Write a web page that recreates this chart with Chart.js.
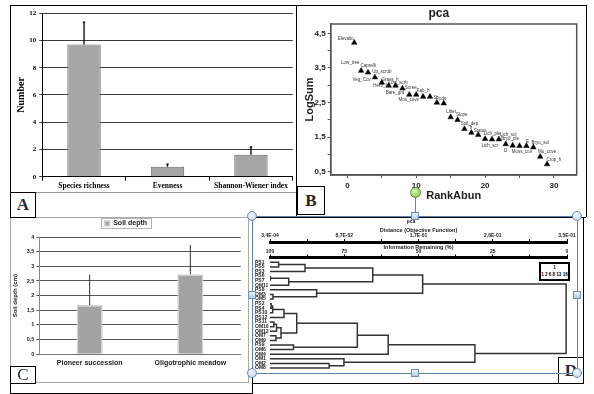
<!DOCTYPE html>
<html>
<head>
<meta charset="utf-8">
<script src="https://cdn.jsdelivr.net/npm/chart.js@4.4.1/dist/chart.umd.min.js"></script>
<style>
  body { margin: 0; background: #fff; }
  #figure { position: relative; width: 594px; height: 394px; overflow: hidden; background: #fff; }
  #figure > * { position: absolute; box-sizing: border-box; }
  .ln { background: #000; }
  .bl { background: #5a82ae; }
  .tag { border: 1px solid #000; background: #fff; display: flex; align-items: center; justify-content: center;
         font: bold 17px "Liberation Serif", "Times New Roman", serif; color: #1e2a48; }
  .hc { width: 10px; height: 10px; border-radius: 50%; border: 1px solid #6d8fb6;
        background: radial-gradient(circle at 40% 35%, #f6f9fc, #b9cde4); }
  .hs { width: 8px; height: 8px; border: 1px solid #6d8fb6; background: linear-gradient(#eef4fa, #b3cbe4); }
  #groupKey { border: 2px solid #000; background: #fff; text-align: center; white-space: nowrap;
              font: bold 4.5px "Liberation Sans", Arial, sans-serif; line-height: 6.5px; padding-top: 1px; }
</style>
</head>
<body>
<div id="figure">
  <!-- panel frames -->
  <div class="ln" style="left:10px;top:5px;width:577px;height:1px"></div>
  <div class="ln" style="left:10px;top:5px;width:1px;height:389px"></div>
  <div class="ln" style="left:296px;top:5px;width:1px;height:212px"></div>
  <div class="ln" style="left:586px;top:5px;width:1px;height:212px"></div>
  <div class="ln" style="left:10px;top:217px;width:576px;height:1px"></div>
  <div class="ln" style="left:252px;top:217px;width:1px;height:177px"></div>
  <div class="ln" style="left:10px;top:393px;width:243px;height:1px"></div>
  <div class="ln" style="left:583px;top:217px;width:1px;height:167px"></div>
  <div class="ln" style="left:252px;top:383px;width:332px;height:1px"></div>
  <div class="ln" style="left:36px;top:192px;width:260px;height:1px;background:#9a9a9a"></div>
  <div style="left:10px;top:217px;width:239px;height:166px;border:1px solid #a8a8a8"></div>

  <canvas id="chartA" width="284" height="186" style="left:11px;top:6px"></canvas>
  <canvas id="chartB" width="284" height="208" style="left:301px;top:6px"></canvas>
  <canvas id="chartC" width="237" height="163" style="left:11px;top:218px"></canvas>
  <canvas id="chartD" width="329" height="164" style="left:253px;top:218px"></canvas>
  <div id="groupKey" style="left:539px;top:262px;width:31px;height:19px"></div>

  <!-- panel letters -->
  <div class="tag" style="left:10px;top:192px;width:26px;height:26px">A</div>
  <div class="tag" style="left:297px;top:186px;width:28px;height:29px;color:#2b2520">B</div>
  <div class="tag" style="left:10px;top:366px;width:26px;height:18px;font-weight:normal">C</div>
  <div class="tag" style="left:558px;top:357px;width:26px;height:27px">D</div>

  <!-- selection frame around D -->
  <div class="bl" style="left:252px;top:216px;width:326px;height:1px"></div>
  <div class="bl" style="left:252px;top:373px;width:326px;height:1px"></div>
  <div class="bl" style="left:252px;top:216px;width:1px;height:158px"></div>
  <div class="bl" style="left:577px;top:216px;width:1px;height:158px"></div>
  <div class="bl" style="left:415px;top:196px;width:1px;height:18px"></div>
  <div class="hc" style="left:410px;top:187px;width:11px;height:11px;border-color:#5f8f3a;background:radial-gradient(circle at 40% 35%,#d8f5b0,#7cc23c)"></div>
  <div class="hc" style="left:247px;top:211px"></div>
  <div class="hc" style="left:572px;top:211px"></div>
  <div class="hc" style="left:247px;top:368px"></div>
  <div class="hc" style="left:572px;top:368px"></div>
  <div class="hs" style="left:411px;top:212px"></div>
  <div class="hs" style="left:411px;top:369px"></div>
  <div class="hs" style="left:248px;top:291px"></div>
  <div class="hs" style="left:573px;top:291px"></div>
</div>

<script>
// ---- data ----
// A: diversity indices
const diversityLabels = ["Species richness", "Evenness", "Shannon-Wiener index"];
const diversityMeans = [9.7, 0.73, 1.62];
const diversityErrors = [1.65, 0.19, 0.56];

// B: rank / abundance of variables
const rankAbun = [1, 2, 3, 4, 5, 6, 7, 8, 9, 10, 11, 12, 13, 14, 15, 16, 17, 18, 19, 20, 21, 22, 23, 24, 25, 26, 27, 28, 29];
const logSum = [4.23, 3.42, 3.37, 3.23, 3.08, 2.99, 2.99, 2.91, 2.73, 2.73, 2.67, 2.67, 2.5, 2.48, 2.08,
  2.0, 1.74, 1.63, 1.57, 1.45, 1.44, 1.44, 1.3, 1.26, 1.25, 1.25, 1.21, 0.94, 0.72];
const variableNames = ["Elevatio", "Low_tree", "Caprelli", "Veg_Cov", "Up_scrub", "Herb_h", "Grass_h", "Low_scrb",
  "Bare_grd", "Scree", "Mos_cove", "Fab_h", "S", "Pods", "Litter", "Slope", "Soil_dep", "h", "Status",
  "Lich_ple", "Lich_scr", "Lich_sol", "Bryo_ple", "D", "Moss_cov", "E", "Bryo_sol", "Mo_cove", "Crop_h"];
const logSumTicks = [0.5, 1, 1.5, 2, 2.5, 3, 3.5, 4, 4.5];
const rankTicks = [0, 5, 10, 15, 20, 25, 30];

// C: soil depth
const habitatLabels = ["Pioneer succession", "Oligotrophic meadow"];
const soilDepthMeans = [1.68, 2.73];
const soilDepthErrors = [1.04, 1.0];

// D: cluster dendrogram
const plotNames = ["PS1", "PS5", "PS3", "PS6", "PS7", "OM11", "PS8", "OM3", "OM5", "PS2", "PS4", "PS10",
  "PS12", "PS11", "OM10", "OM12", "OM7", "OM9", "PS9", "OM6", "OM4", "OM1", "OM2", "OM8"];
// each merge joins two plots or earlier clusters (c0, c1, ...)
const merges = [
  ["PS1", "PS5"], ["c0", "PS3"], ["PS6", "PS7"], ["c2", "OM11"], ["c1", "c3"],
  ["OM3", "OM5"], ["PS8", "c5"], ["c4", "c6"], ["PS2", "PS4"], ["c8", "PS10"],
  ["c9", "PS12"], ["PS11", "OM10"], ["c11", "OM12"], ["OM7", "OM9"], ["c12", "c13"],
  ["c10", "c14"], ["PS9", "OM6"], ["c15", "c16"], ["c17", "OM4"], ["OM2", "OM8"],
  ["OM1", "c19"], ["c18", "c20"], ["c7", "c21"]
];
const mergeInfo = [97.1, 88.2, 99.8, 93.7, 65.4, 99.0, 84.3, 48.6, 99.6, 99.1, 95.3, 98.7, 97.8, 98.0, 96.3,
  91.0, 92.1, 70.6, 60.2, 80.1, 75.1, 31.0, 0.3];
const infoLabels = ["100", "75", "50", "25", "0"];
const distanceLabels = ["3,4E-04", "8,7E-02", "1,7E-01", "2,6E-01", "3,5E-01"];
const distanceMin = 0.00034;
const distanceMax = 0.35;
const groupKeyLines = ["1", "1 2 6 8 13 16"];

// ---- helpers ----
const SERIF = "'Liberation Serif', 'Times New Roman', serif";
const SANS = "'Liberation Sans', Arial, sans-serif";

Chart.defaults.animation = false;
Chart.defaults.responsive = false;
Chart.defaults.devicePixelRatio = 1;
Chart.defaults.plugins.legend.display = false;
Chart.defaults.plugins.tooltip.enabled = false;
Chart.defaults.color = "#000";

function fixWidth(w) {
  return (scale) => { scale.width = w; };
}
function fixHeight(h) {
  return (scale) => { scale.height = h; };
}
function setTicks(values) {
  return (scale) => { scale.ticks = values.map((v) => ({ value: v })); };
}
function comma(v) {
  return String(v).replace(".", ",");
}

// Upward error bars on top of each bar
const errorBars = {
  id: "errorBars",
  afterDatasetsDraw(chart, args, opts) {
    const ctx = chart.ctx;
    const y = chart.scales.y;
    const values = chart.data.datasets[0].data;
    ctx.save();
    ctx.strokeStyle = opts.color;
    ctx.lineWidth = opts.width;
    chart.getDatasetMeta(0).data.forEach((bar, i) => {
      const top = y.getPixelForValue(values[i] + opts.errors[i]);
      ctx.beginPath();
      ctx.moveTo(bar.x, bar.y);
      ctx.lineTo(bar.x, top);
      if (opts.cap) {
        ctx.moveTo(bar.x - opts.cap, top);
        ctx.lineTo(bar.x + opts.cap, top);
      }
      ctx.stroke();
    });
    ctx.restore();
  }
};

// Box round the plot area
const plotFrame = {
  id: "plotFrame",
  beforeDatasetsDraw(chart, args, opts) {
    const a = chart.chartArea;
    const ctx = chart.ctx;
    ctx.save();
    ctx.strokeStyle = opts.color;
    ctx.lineWidth = opts.width;
    ctx.strokeRect(a.left, a.top, a.right - a.left, a.bottom - a.top);
    ctx.restore();
  }
};

// label offsets (px) of the variable names next to the triangles
const nameOffsets = [[-8.5, -4.4], [-11, -8], [0, -7], [-13.3, 2.7], [0, -11], [-8, 0.3], [-5.5, -5.7],
  [-4.3, -5.6], [-14.3, -2], [-5.3, -7], [-14.3, 3.3], [-6.8, -6], [-1.6, -5], [-2.7, -5], [0.6, -5],
  [4.3, -5], [5, -4.7], [-0.4, -5.4], [1.8, -4], [7, -5], [-2, 6.4], [9.3, -4.3], [4.3, -5], [-7, 5],
  [2.3, 6.3], [1, -3.7], [7, -4.6], [7, -4.4], [6.8, -4.3]];

const pointNames = {
  id: "pointNames",
  afterDatasetsDraw(chart) {
    const ctx = chart.ctx;
    ctx.save();
    ctx.font = "4.5px " + SANS;
    ctx.fillStyle = "#333";
    ctx.textAlign = "center";
    ctx.textBaseline = "middle";
    chart.getDatasetMeta(0).data.forEach((pt, i) => {
      const off = nameOffsets[i];
      ctx.fillText(variableNames[i], pt.x + off[0], pt.y + off[1]);
    });
    ctx.restore();
  }
};

// Light box round the legend
const legendFrame = {
  id: "legendFrame",
  afterDraw(chart) {
    const boxes = chart.legend.legendHitBoxes;
    if (!boxes || !boxes.length) return;
    const b = boxes[0];
    const ctx = chart.ctx;
    ctx.save();
    ctx.strokeStyle = "#b5b5b5";
    ctx.lineWidth = 1;
    ctx.strokeRect(Math.round(b.left - 4) + 0.5, Math.round(b.top - 2) + 0.5, Math.round(b.width + 8), Math.round(b.height + 3));
    ctx.restore();
  }
};

// ---- Panel A ----
function drawPanelA() {
  new Chart(document.getElementById("chartA"), {
    type: "bar",
    data: {
      labels: diversityLabels,
      datasets: [{
        data: diversityMeans,
        backgroundColor: "#a6a6a6",
        borderColor: "#6a6a6a",
        borderWidth: 1,
        barPercentage: 0.4,
        categoryPercentage: 1
      }]
    },
    options: {
      layout: { padding: { left: 0, right: 2.3, top: 5.7, bottom: 0 } },
      plugins: { errorBars: { errors: diversityErrors, color: "#000", width: 1.3, cap: 1.2 } },
      scales: {
        x: {
          afterFit: fixHeight(15.3),
          grid: { offset: true, drawOnChartArea: false, tickLength: 4, color: "#000" },
          border: { color: "#000" },
          ticks: { font: { family: SERIF, size: 7.5, weight: "bold" }, padding: 1, maxRotation: 0, autoSkip: false }
        },
        y: {
          min: 0,
          max: 12,
          afterFit: fixWidth(31.3),
          ticks: { stepSize: 2, font: { family: SERIF, size: 7, weight: "bold" }, padding: 3 },
          grid: { color: "#3c3c3c", tickLength: 3 },
          border: { color: "#000" },
          title: { display: true, text: "Number", font: { family: SERIF, size: 10, weight: "bold" }, padding: { top: 4.7 } }
        }
      }
    },
    plugins: [errorBars]
  });
}

// ---- Panel B ----
function drawPanelB() {
  const points = rankAbun.map((r, i) => ({ x: r, y: logSum[i] }));
  new Chart(document.getElementById("chartB"), {
    type: "scatter",
    data: {
      datasets: [{
        data: points,
        pointStyle: "triangle",
        pointRadius: 3.2,
        backgroundColor: "#000",
        borderColor: "#000",
        borderWidth: 0.5
      }]
    },
    options: {
      layout: { padding: { left: 0, right: 8.3, top: 0, bottom: 9 } },
      plugins: {
        title: { display: true, text: "pca", color: "#222", font: { family: SANS, size: 12 }, padding: { top: 0, bottom: 3.6 } },
        plotFrame: { color: "#555", width: 1.5 }
      },
      scales: {
        x: {
          type: "linear",
          min: -2.42,
          max: 33.3,
          afterBuildTicks: setTicks(rankTicks),
          afterFit: fixHeight(30),
          ticks: { callback: (v) => (v % 10 === 0 ? String(v) : ""), font: { family: SANS, size: 8, weight: "bold" }, color: "#222", padding: 3 },
          grid: { drawOnChartArea: false, tickLength: 3, color: "#555" },
          border: { color: "#555", width: 1.5 },
          title: { display: true, text: "RankAbun", color: "#222", font: { family: SANS, size: 11, weight: "bold" }, padding: { bottom: 2 } }
        },
        y: {
          min: 0.41,
          max: 4.77,
          afterBuildTicks: setTicks(logSumTicks),
          afterFit: fixWidth(29.7),
          ticks: { callback: (v) => (v % 1 === 0.5 ? comma(v) : ""), font: { family: SANS, size: 8, weight: "bold" }, color: "#222", padding: 2 },
          grid: { drawOnChartArea: false, tickLength: 3, color: "#555" },
          border: { color: "#555", width: 1.5 },
          title: { display: true, text: "LogSum", color: "#222", font: { family: SANS, size: 11, weight: "bold" }, padding: { top: 2 } }
        }
      }
    },
    plugins: [plotFrame, pointNames]
  });
}

// ---- Panel C ----
function drawPanelC() {
  new Chart(document.getElementById("chartC"), {
    type: "bar",
    data: {
      labels: habitatLabels,
      datasets: [{
        label: "Soil depth",
        data: soilDepthMeans,
        backgroundColor: "#a3a3a3",
        borderColor: "#d2d2d2",
        borderWidth: 1.5,
        barPercentage: 0.26,
        categoryPercentage: 1
      }]
    },
    options: {
      layout: { padding: { left: 0, right: 7.3, top: 1, bottom: 10.7 } },
      plugins: {
        legend: {
          display: true,
          position: "top",
          labels: { boxWidth: 5, boxHeight: 5, padding: 1, color: "#222", font: { family: SANS, size: 7, weight: "bold" } }
        },
        errorBars: { errors: soilDepthErrors, color: "#333", width: 1, cap: 0 }
      },
      scales: {
        x: {
          afterFit: fixHeight(16),
          grid: { display: false, drawTicks: false },
          border: { color: "#777" },
          ticks: { font: { family: SANS, size: 7, weight: "bold" }, color: "#222", padding: 5, maxRotation: 0, autoSkip: false }
        },
        y: {
          min: 0,
          max: 4,
          afterFit: fixWidth(28.3),
          ticks: { stepSize: 0.5, callback: (v) => comma(v), font: { family: SANS, size: 5.5, weight: "bold" }, color: "#222", padding: 2 },
          grid: { color: "#555", tickLength: 3 },
          border: { color: "#888" },
          title: { display: true, text: "Soil depth (cm)", color: "#222", font: { family: SANS, size: 6, weight: "bold" }, padding: { top: 0.6 } }
        }
      }
    },
    plugins: [errorBars, legendFrame]
  });
}

// ---- Panel D ----
function buildDendrogram() {
  const nodes = {};
  plotNames.forEach((name, i) => { nodes[name] = { x: 100, y: i }; });
  const datasets = [];
  merges.forEach((pair, k) => {
    const a = nodes[pair[0]];
    const b = nodes[pair[1]];
    const h = mergeInfo[k];
    datasets.push({
      data: [{ x: a.x, y: a.y }, { x: h, y: a.y }, { x: h, y: b.y }, { x: b.x, y: b.y }],
      showLine: true,
      pointRadius: 0,
      borderColor: "#333",
      borderWidth: 1.5
    });
    nodes["c" + k] = { x: h, y: (a.y + b.y) / 2 };
  });
  return datasets;
}

function drawPanelD() {
  const infoTicks = [];
  const distTicks = [];
  const steps = (infoLabels.length - 1) * 2;
  for (let i = 0; i <= steps; i++) {
    infoTicks.push(100 - (100 * i) / steps);
    distTicks.push(distanceMin + ((distanceMax - distanceMin) * i) / steps);
  }
  const leafTicks = plotNames.map((n, i) => i);
  const tickFont = { family: SANS, size: 5, weight: "bold" };

  new Chart(document.getElementById("chartD"), {
    type: "scatter",
    data: { datasets: buildDendrogram() },
    options: {
      layout: { padding: { left: 2, right: 15, top: 0, bottom: 10 } },
      plugins: {
        title: { display: true, text: "pca", color: "#222", font: { family: SANS, size: 5 }, padding: { top: 1, bottom: 1 } }
      },
      scales: {
        x: {
          type: "linear",
          position: "top",
          weight: 0,
          min: 0,
          max: 100,
          reverse: true,
          afterBuildTicks: setTicks(infoTicks),
          afterFit: fixHeight(15.5),
          ticks: { callback: (v, i) => (i % 2 === 0 ? infoLabels[i / 2] : ""), font: tickFont, color: "#222", padding: 0 },
          grid: { drawOnChartArea: false, tickLength: 3, color: "#000" },
          border: { color: "#000", width: 3 },
          title: { display: true, text: "Information Remaining (%)", color: "#222", font: { family: SANS, size: 5.5, weight: "bold" }, padding: { top: 2 } }
        },
        x2: {
          type: "linear",
          position: "top",
          weight: 1,
          min: distanceMin,
          max: distanceMax,
          afterBuildTicks: setTicks(distTicks),
          afterFit: fixHeight(16),
          ticks: { callback: (v, i) => (i % 2 === 0 ? distanceLabels[i / 2] : ""), font: tickFont, color: "#222", padding: 0 },
          grid: { drawOnChartArea: false, tickLength: 3, color: "#000" },
          border: { color: "#000", width: 3 },
          title: { display: true, text: "Distance (Objective Function)", color: "#222", font: { family: SANS, size: 5.5, weight: "bold" }, padding: { top: 1 } }
        },
        y: {
          type: "linear",
          min: -1.04,
          max: 23.87,
          reverse: true,
          afterBuildTicks: setTicks(leafTicks),
          afterFit: fixWidth(15),
          ticks: { callback: (v) => plotNames[v], font: tickFont, color: "#222", padding: 2, autoSkip: false, crossAlign: "far" },
          grid: { display: false },
          border: { display: false }
        }
      }
    }
  });

  document.getElementById("groupKey").innerHTML = groupKeyLines.join("<br>");
}

drawPanelA();
drawPanelB();
drawPanelC();
drawPanelD();
</script>
</body>
</html>
